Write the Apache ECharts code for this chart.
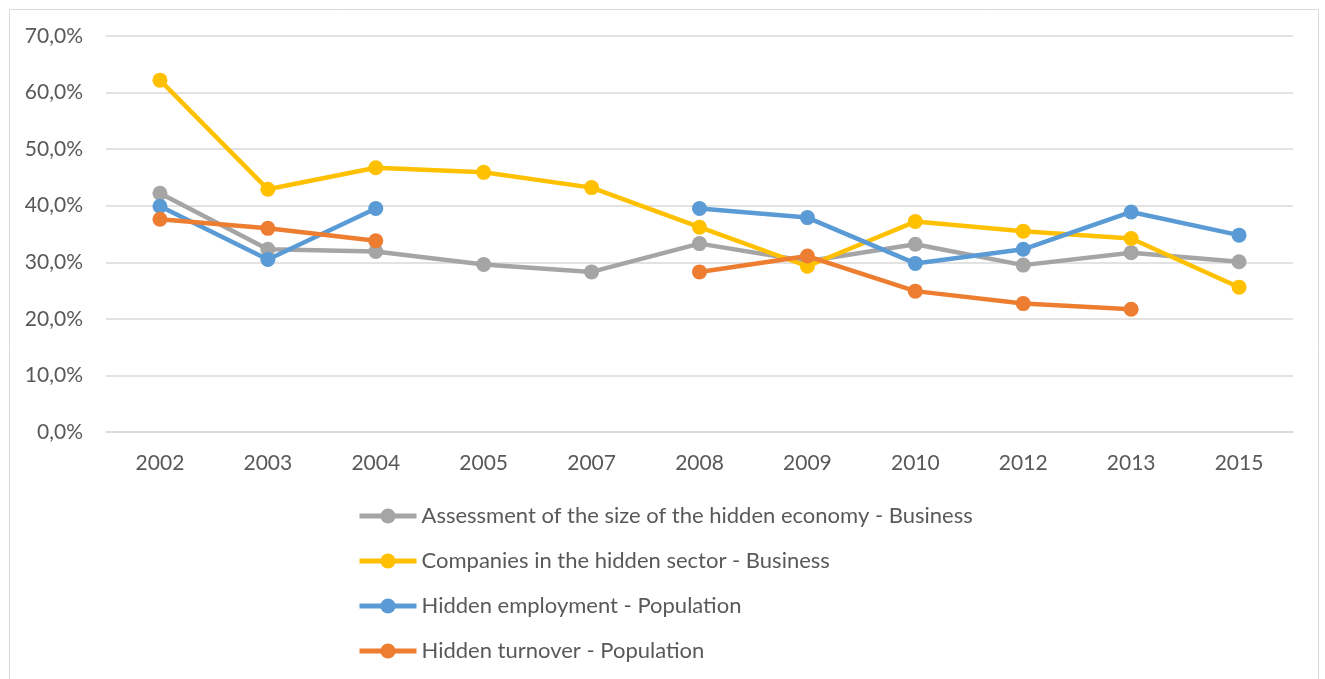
<!DOCTYPE html>
<html>
<head>
<meta charset="utf-8">
<script src="https://cdn.jsdelivr.net/npm/echarts@6/dist/echarts.min.js"></script>
<style>html,body{margin:0;padding:0;background:#fff;}#c{width:1325px;height:679px;}</style>
</head>
<body>
<div id="c"></div>
<script>
const years = ['2002','2003','2004','2005','2007','2008','2009','2010','2012','2013','2015'];
const assessmentBusiness = [42.2, 32.3, 31.9, 29.6, 28.3, 33.3, 30.2, 33.2, 29.5, 31.7, 30.1];
const companiesBusiness  = [62.2, 42.9, 46.7, 45.9, 43.2, 36.2, 29.3, 37.2, 35.5, 34.2, 25.6];
const employmentPopulation = [39.9, 30.5, 39.5, null, null, 39.5, 37.9, 29.8, 32.3, 38.9, 34.8];
const turnoverPopulation   = [37.6, 36.0, 33.8, null, null, 28.3, 31.1, 24.9, 22.7, 21.7, null];
const seriesNames = [
  'Assessment of the size of the hidden economy - Business',
  'Companies in the hidden sector - Business',
  'Hidden employment - Population',
  'Hidden turnover - Population'
];
const colors = ['#A5A5A5', '#FFC000', '#5B9BD5', '#ED7D31'];
const dataSets = [assessmentBusiness, companiesBusiness, employmentPopulation, turnoverPopulation];

const FONT = 'Lato';
const chart = echarts.init(document.getElementById('c'));
chart.setOption({
  animation: false,
  backgroundColor: '#fff',
  color: colors,
  textStyle: { fontFamily: FONT },
  graphic: [{
    type: 'rect', left: 7, top: 7,
    shape: { width: 1309, height: 690 },
    style: { fill: 'none', stroke: '#D9D9D9', lineWidth: 1 },
    silent: true
  }],
  grid: { left: 106, right: 32, top: 36, bottom: 247 },
  xAxis: {
    type: 'category',
    data: years,
    boundaryGap: true,
    axisLine: { lineStyle: { color: '#D9D9D9', width: 1.5 } },
    axisTick: { show: false },
    axisLabel: { color: '#595959', fontSize: 21, margin: 21, fontFamily: FONT }
  },
  yAxis: {
    type: 'value',
    min: 0, max: 70, interval: 10,
    axisLine: { show: false },
    axisTick: { show: false },
    splitLine: { lineStyle: { color: '#D9D9D9', width: 1.5 } },
    axisLabel: {
      color: '#595959', fontSize: 21, margin: 23, fontFamily: FONT,
      formatter: v => v.toFixed(1).replace('.', ',') + '%'
    }
  },
  legend: {
    orient: 'vertical',
    left: 352, top: 500,
    itemWidth: 57, itemHeight: 19, itemGap: 23,
    lineStyle: { width: 5 },
    textStyle: { color: '#595959', fontSize: 22, fontFamily: FONT },
    data: seriesNames
  },
  series: seriesNames.map((n, i) => ({
    name: n,
    type: 'line',
    data: dataSets[i],
    connectNulls: false,
    symbol: 'circle',
    symbolSize: 15,
    lineStyle: { width: 4.5, color: colors[i] },
    itemStyle: { color: colors[i] },
    z: 2 + i
  }))
});
</script>
</body>
</html>
